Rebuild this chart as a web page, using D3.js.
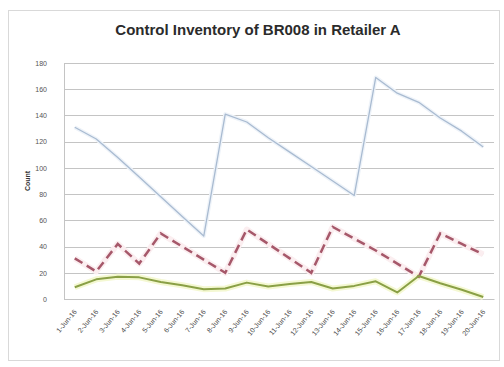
<!DOCTYPE html>
<html>
<head>
<meta charset="utf-8">
<script src="https://cdn.jsdelivr.net/npm/d3@7"></script>
<style>
  html, body { margin: 0; padding: 0; background: #fff; }
  svg { display: block; }
</style>
</head>
<body>
<svg id="chart" width="504" height="367"></svg>
<script>
const categories = ["1-Jun-16","2-Jun-16","3-Jun-16","4-Jun-16","5-Jun-16","6-Jun-16","7-Jun-16","8-Jun-16","9-Jun-16","10-Jun-16",
  "11-Jun-16","12-Jun-16","13-Jun-16","14-Jun-16","15-Jun-16","16-Jun-16","17-Jun-16","18-Jun-16","19-Jun-16","20-Jun-16"];
const blueSeries  = [131,122,108,93,78,63,48,141,135,123,112,101,90,79,169,157,150,138,128,116];
const redSeries   = [31,21,42,27,50,40,30,20,53,42,31,20,55,46,37,27,17,50,42,34];
const greenSeries = [9,15,17,16.5,13,10.5,7.5,8,12.5,9.5,11.5,13,8,10,13.5,5,17.5,12,7,1.5];
const yTicks = [0,20,40,60,80,100,120,140,160,180];

const svg = d3.select("#chart");
const plot = {left: 64, right: 494, top: 63, bottom: 299};

// outer chart border
svg.append("rect").attr("x", 8.5).attr("y", 10.5).attr("width", 491).attr("height", 350)
  .attr("fill", "#fff").attr("stroke", "#d9d9d9").attr("stroke-width", 1);

const x = d3.scalePoint().domain(categories).range([plot.left, plot.right]).padding(0.5);
const y = d3.scaleLinear().domain([0, 180]).range([plot.bottom, plot.top]);

// title
svg.append("text").attr("x", 258).attr("y", 35).attr("text-anchor", "middle")
  .attr("font-family", "'Liberation Sans', Arial, sans-serif").attr("font-weight", "bold")
  .attr("font-size", 15).attr("fill", "#2b2b2b")
  .text("Control Inventory of BR008 in Retailer A");

// gridlines
svg.append("g").selectAll("line").data(yTicks).join("line")
  .attr("x1", plot.left).attr("x2", plot.right)
  .attr("y1", d => Math.round(y(d)) + 0.5).attr("y2", d => Math.round(y(d)) + 0.5)
  .attr("stroke", "#c4c4c4").attr("stroke-width", 1);

// left axis line
svg.append("line").attr("x1", plot.left + 0.5).attr("x2", plot.left + 0.5)
  .attr("y1", plot.top).attr("y2", plot.bottom).attr("stroke", "#c4c4c4");

// y axis via d3
const yAxis = d3.axisLeft(y).tickValues(yTicks).tickSize(0).tickPadding(0);
const gy = svg.append("g").attr("transform", `translate(${plot.left - 17},0)`).call(yAxis);
gy.select(".domain").remove();
gy.selectAll("text").attr("font-family", "'Liberation Sans', Arial, sans-serif")
  .attr("font-size", 7).attr("fill", "#555");

// x axis via d3
const xAxis = d3.axisBottom(x).tickSize(0).tickPadding(0);
const gx = svg.append("g").attr("transform", `translate(0,${plot.bottom})`).call(xAxis);
gx.select(".domain").attr("stroke", "#c4c4c4");
gx.selectAll("text")
  .attr("font-family", "'Liberation Sans', Arial, sans-serif").attr("font-size", 7).attr("fill", "#4a4a4a")
  .attr("text-anchor", "end").attr("dy", 0)
  .attr("transform", "translate(2,13) rotate(-50)");

// axis title
svg.append("text").attr("transform", "translate(30,181) rotate(-90)").attr("text-anchor", "middle")
  .attr("font-family", "'Liberation Sans', Arial, sans-serif").attr("font-weight", "bold")
  .attr("font-size", 7).attr("fill", "#333").text("Count");

const line = d3.line().x((d, i) => x(categories[i])).y(d => y(d));

// glows
svg.append("path").datum(blueSeries).attr("d", line).attr("fill", "none")
  .attr("stroke", "#eef3f9").attr("stroke-width", 4).attr("stroke-linejoin", "round");
svg.append("path").datum(redSeries).attr("d", line).attr("fill", "none")
  .attr("stroke", "#fbeef0").attr("stroke-width", 6).attr("stroke-linejoin", "round");
svg.append("path").datum(greenSeries).attr("d", line).attr("fill", "none")
  .attr("stroke", "#f4f8d2").attr("stroke-width", 6).attr("stroke-linejoin", "round");

// series
svg.append("path").datum(blueSeries).attr("d", line).attr("fill", "none")
  .attr("stroke", "#a9bbd1").attr("stroke-width", 1.3).attr("stroke-linejoin", "round");
svg.append("path").datum(redSeries).attr("d", line).attr("fill", "none")
  .attr("stroke", "#a6586a").attr("stroke-width", 2.5).attr("stroke-dasharray", "9,5");
svg.append("path").datum(greenSeries).attr("d", line).attr("fill", "none")
  .attr("stroke", "#8aa046").attr("stroke-width", 2).attr("stroke-linejoin", "round");
</script>
</body>
</html>
